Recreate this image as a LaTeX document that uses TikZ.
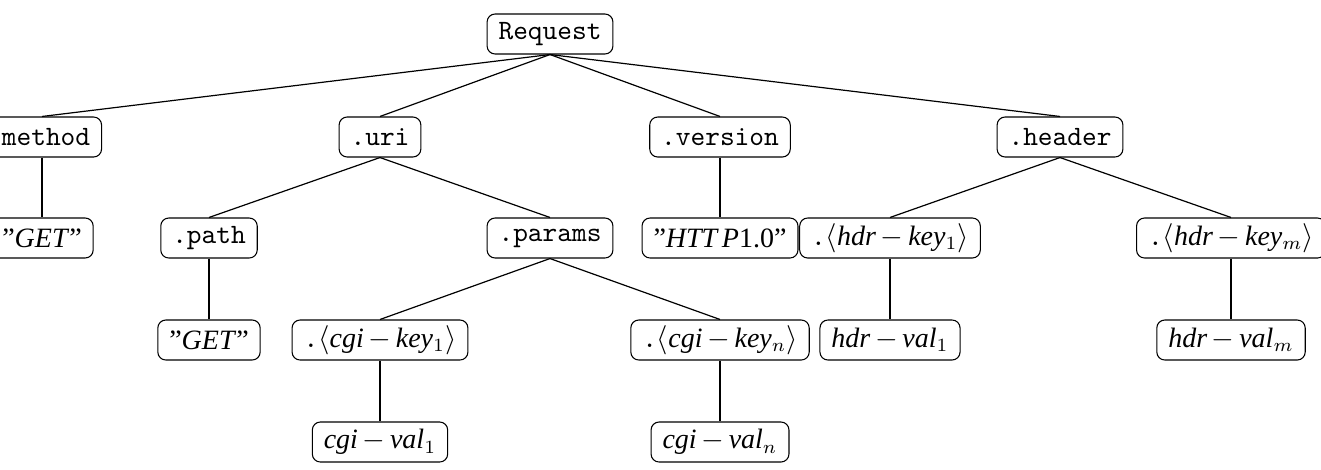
\documentclass[tikz,border=0pt]{standalone}
\usepackage{fontspec}
\setmainfont{Liberation Serif}
\newcommand{\mi}[1]{\textit{#1}}
\newcommand{\mm}{\,$-$\,}
\begin{document}
\begin{tikzpicture}[x=0.375pt,y=-0.375pt,
  box/.style={draw,rounded corners=3pt,minimum height=15pt,inner xsep=4.3pt,inner ysep=2pt,font=\fontsize{10.5}{12}\selectfont},
  edge/.style={draw,line width=0.45pt}]
\useasboundingbox (0,0) rectangle (1321,469);
% level 0
\node[box] (req) at (550,34) {\texttt{Request}};
% level 1
\node[box] (m) at (42,137) {\hspace*{3pt}\texttt{method}};
\node[box] (uri) at (380,137)  {\texttt{.uri}};
\node[box] (ver) at (720,137)  {\texttt{.version}};
\node[box] (hdr) at (1060,137) {\texttt{.header}};
% level 2
\coordinate (gx) at (42,238);
\node[box] (get1) at (m.center |- gx) {''\mi{GET}''};
\node[box] (path) at (209,238)  {\texttt{.path}};
\node[box] (par)  at (550,238)  {\texttt{.params}};
\node[box] (http) at (720,238)  {''\mi{HTT\,P}1.0''};
\node[box] (hk1)  at (890,238)  {\texttt{.}$\langle$\mi{hdr}\mm\mi{key}$_1\rangle$};
\node[box] (hkm)  at (1231,238) {\texttt{.}$\langle$\mi{hdr}\mm\mi{key}$_m\rangle$};
% level 3
\node[box] (get2) at (209,340)  {''\mi{GET}''};
\node[box] (ck1)  at (380,340)  {\texttt{.}$\langle$\mi{cgi}\mm\mi{key}$_1\rangle$};
\node[box] (ckn)  at (720,340)  {\texttt{.}$\langle$\mi{cgi}\mm\mi{key}$_n\rangle$};
\node[box] (hv1)  at (890,340)  {\mi{hdr}\mm\mi{val}$_1$};
\node[box] (hvm)  at (1231,340) {\mi{hdr}\mm\mi{val}$_m$};
% level 4
\node[box] (cv1)  at (380,442)  {\mi{cgi}\mm\mi{val}$_1$};
\node[box] (cvn)  at (720,442)  {\mi{cgi}\mm\mi{val}$_n$};
% edges
\draw[edge] (req.south) -- (m.north);
\draw[edge] (req.south) -- (uri.north);
\draw[edge] (req.south) -- (ver.north);
\draw[edge] (req.south) -- (hdr.north);
\draw[edge] (m.south) -- (get1.north);
\draw[edge] (uri.south) -- (path.north);
\draw[edge] (uri.south) -- (par.north);
\draw[edge] (ver.south) -- (http.north);
\draw[edge] (hdr.south) -- (hk1.north);
\draw[edge] (hdr.south) -- (hkm.north);
\draw[edge] (path.south) -- (get2.north);
\draw[edge] (par.south) -- (ck1.north);
\draw[edge] (par.south) -- (ckn.north);
\draw[edge] (hk1.south) -- (hv1.north);
\draw[edge] (hkm.south) -- (hvm.north);
\draw[edge] (ck1.south) -- (cv1.north);
\draw[edge] (ckn.south) -- (cvn.north);
\end{tikzpicture}
\end{document}
